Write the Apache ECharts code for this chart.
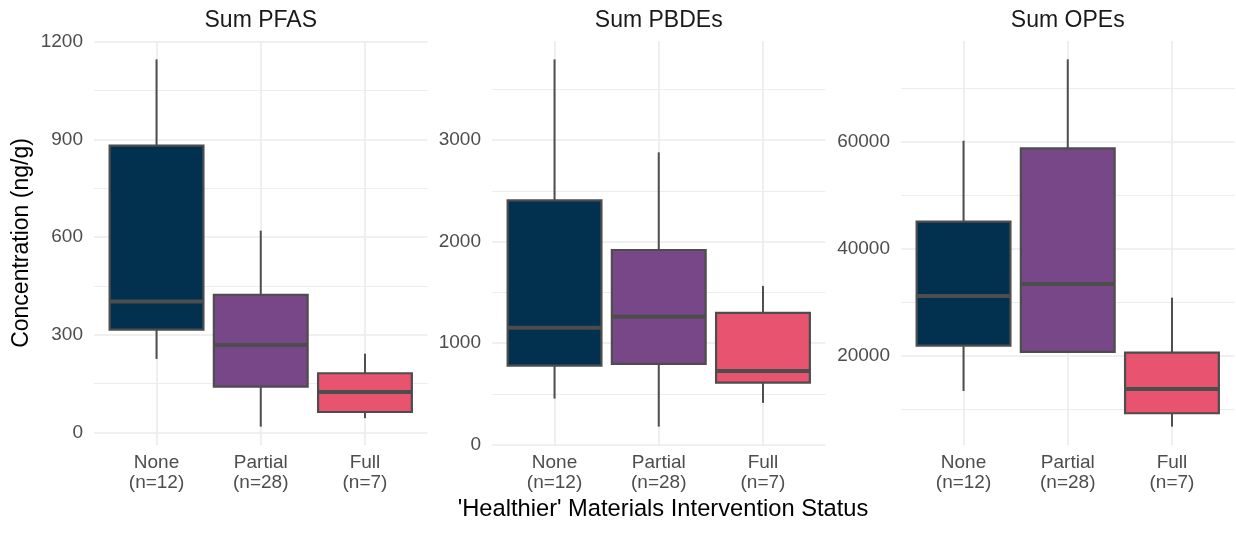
<!DOCTYPE html>
<html>
<head>
<meta charset="utf-8">
<script src="https://cdn.jsdelivr.net/npm/echarts@6/dist/echarts.min.js"></script>
<style>
  html, body { margin: 0; padding: 0; background: #fff; }
  #chart { width: 1236px; height: 537px; }
</style>
</head>
<body>
<div id="chart"></div>
<script>
// categories and group sizes
const groups = ['None', 'Partial', 'Full'];
const groupN = ['(n=12)', '(n=28)', '(n=7)'];
const boxColors = ['#023150', '#774787', '#E8536F'];

// box stats: [min, Q1, median, Q3, max]
const pfasNone = [226, 316, 402, 881, 1146];
const pfasPartial = [18, 141, 269, 423, 620];
const pfasFull = [44, 63, 124, 182, 242];

const pbdeNone = [453, 778, 1152, 2406, 3795];
const pbdePartial = [177, 795, 1260, 1917, 2879];
const pbdeFull = [411, 610, 726, 1297, 1563];

const opeNone = [13480, 21934, 31207, 45072, 60187];
const opePartial = [20650, 20758, 33447, 58768, 75376];
const opeFull = [6819, 9320, 13855, 20627, 30890];

// tick values
const pfasTicks = [0, 300, 600, 900, 1200];
const pfasMinor = [150, 450, 750, 1050];
const pbdeTicks = [0, 1000, 2000, 3000];
const pbdeMinor = [500, 1500, 2500, 3500];
const opeTicks = [20000, 40000, 60000];
const opeMinor = [10000, 30000, 50000, 70000];

const panels = [
  { title: 'Sum PFAS', boxes: [pfasNone, pfasPartial, pfasFull], ticks: pfasTicks, minor: pfasMinor, left: 94 },
  { title: 'Sum PBDEs', boxes: [pbdeNone, pbdePartial, pbdeFull], ticks: pbdeTicks, minor: pbdeMinor, left: 492 },
  { title: 'Sum OPEs', boxes: [opeNone, opePartial, opeFull], ticks: opeTicks, minor: opeMinor, left: 901 }
];

const gridW = 333.5;
const gridColor = '#EBEBEB';
const font = 'Liberation Sans, Arial, sans-serif';

const chart = echarts.init(document.getElementById('chart'));

function renderBox(params, api) {
  const x = api.value(0);
  const lo = api.coord([x, api.value(1)]);
  const q1 = api.coord([x, api.value(2)]);
  const med = api.coord([x, api.value(3)]);
  const q3 = api.coord([x, api.value(4)]);
  const hi = api.coord([x, api.value(5)]);
  const w = api.size([0.9, 0])[0];
  const stroke = '#4D4D4D';
  return {
    type: 'group',
    children: [
      { type: 'line', shape: { x1: lo[0], y1: lo[1], x2: q1[0], y2: q1[1] }, style: { stroke: stroke, lineWidth: 2 } },
      { type: 'line', shape: { x1: q3[0], y1: q3[1], x2: hi[0], y2: hi[1] }, style: { stroke: stroke, lineWidth: 2 } },
      { type: 'rect', shape: { x: q3[0] - w / 2, y: q3[1], width: w, height: q1[1] - q3[1] },
        style: { fill: boxColors[params.dataIndex], stroke: stroke, lineWidth: 2.2 } },
      { type: 'line', shape: { x1: med[0] - w / 2, y1: med[1], x2: med[0] + w / 2, y2: med[1] },
        style: { stroke: stroke, lineWidth: 4 } }
    ]
  };
}

const grid = [], xAxis = [], yAxis = [], series = [], title = [];

panels.forEach(function (p, i) {
  const all = [].concat.apply([], p.boxes);
  const lo = Math.min.apply(null, all), hi = Math.max.apply(null, all);
  const pad = (hi - lo) * 0.05;

  grid.push({ left: p.left, width: gridW, top: 41, bottom: 92 });
  title.push({
    text: p.title, left: p.left + gridW / 2, top: 9, padding: 0, textAlign: 'center',
    textStyle: { fontFamily: font, fontSize: 23, fontWeight: 'normal', color: '#1A1A1A' }
  });
  xAxis.push({
    type: 'value', gridIndex: i, min: 0.4, max: 3.6,
    axisLine: { show: false },
    axisTick: { show: false, customValues: [1, 2, 3] },
    splitLine: { show: true, lineStyle: { color: gridColor, width: 1.6 } },
    axisLabel: {
      customValues: [1, 2, 3], margin: 8, fontFamily: font, fontSize: 19, color: '#4D4D4D', lineHeight: 20,
      formatter: function (v) { return groups[v - 1] + '\n' + groupN[v - 1]; }
    }
  });
  yAxis.push({
    type: 'value', gridIndex: i, min: lo - pad, max: hi + pad,
    axisLine: { show: false },
    axisTick: { show: false, customValues: p.ticks },
    splitLine: { show: true, lineStyle: { color: gridColor, width: 1.6 } },
    axisLabel: {
      customValues: p.ticks, margin: 11, fontFamily: font, fontSize: 19, color: '#4D4D4D',
      formatter: function (v) { return String(v); }
    }
  });
  yAxis.push({
    type: 'value', gridIndex: i, min: lo - pad, max: hi + pad,
    axisLine: { show: false },
    axisTick: { show: false, customValues: p.minor },
    axisLabel: { show: false },
    splitLine: { show: true, lineStyle: { color: gridColor, width: 0.9 } }
  });
  series.push({
    type: 'custom', xAxisIndex: i, yAxisIndex: i * 2,
    renderItem: renderBox,
    encode: { x: 0, y: [1, 2, 3, 4, 5] },
    data: p.boxes.map(function (b, k) { return [k + 1].concat(b); }),
    silent: true
  });
});

chart.setOption({
  animation: false,
  title: title,
  grid: grid,
  xAxis: xAxis,
  yAxis: yAxis,
  series: series,
  graphic: [
    { type: 'text', x: 22, y: 243, rotation: Math.PI / 2,
      style: { text: 'Concentration (ng/g)', fontFamily: font, fontSize: 23, fill: '#000', align: 'center', verticalAlign: 'middle' } },
    { type: 'text', x: 663, y: 509,
      style: { text: "'Healthier' Materials Intervention Status", fontFamily: font, fontSize: 23.7, fill: '#000', align: 'center', verticalAlign: 'middle' } }
  ]
});
</script>
</body>
</html>
